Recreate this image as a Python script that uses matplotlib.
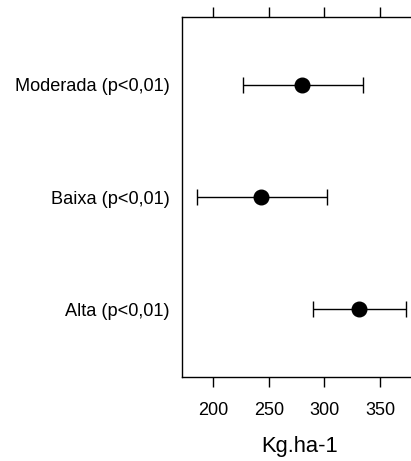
import matplotlib
matplotlib.use("Agg")
import matplotlib.pyplot as plt

plt.rcParams['font.family'] = ['Liberation Sans', 'DejaVu Sans']

categories = ["Alta (p<0,01)", "Baixa (p<0,01)", "Moderada (p<0,01)"]
means = [331, 243, 279.5]
lower = [289.5, 185.5, 227]
upper = [373, 302, 334.5]
xticks = [200, 250, 300, 350]

fig = plt.figure(figsize=(4.11, 4.61), dpi=100)
# the plotting panel runs past the right edge of the figure
px_per_unit = 1.112
x0, x1 = 171.6, 400
left_px, bottom_px, top_px = 181.7, 84.3, 443.7
W, H = 411, 461
ax = fig.add_axes([left_px / W, bottom_px / H,
                   (x1 - x0) * px_per_unit / W, (top_px - bottom_px) / H])

ypos = list(range(1, len(categories) + 1))
err = [[m - lo for m, lo in zip(means, lower)],
       [hi - m for m, hi in zip(means, upper)]]
ax.errorbar(means, ypos, xerr=err, fmt='o', color='black', ecolor='black',
            markersize=10.5, elinewidth=1.0, capsize=5.5, capthick=1.0)

ax.set_xlim(x0, x1)
ax.set_ylim(0.4, 3.6)
ax.set_xticks(xticks)
ax.set_xticklabels([str(t) for t in xticks])
ax.set_yticks(ypos)
ax.set_yticklabels(categories)

ax.tick_params(axis='x', which='both', direction='out', length=7.5, width=1.0,
               top=True, bottom=True, labeltop=False, labelbottom=True,
               labelsize=13, pad=10.5, colors='black')
ax.tick_params(axis='y', length=0, pad=8.5, labelsize=13.1)

for s in ax.spines.values():
    s.set_linewidth(1.0)
    s.set_color('black')

ax.set_xlabel("Kg.ha-1", fontsize=15.8)
# centre the label under the visible part of the axis
ax.xaxis.set_label_coords((278 - x0) / (x1 - x0), -0.165)

fig.savefig("out.png", dpi=100)
